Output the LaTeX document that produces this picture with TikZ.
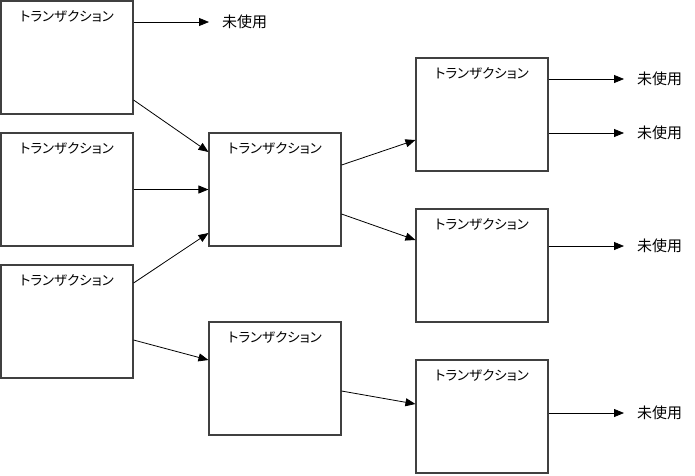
\documentclass[tikz,border=0pt]{standalone}
\usepackage{fontspec}
\newfontfamily\jpfont[RawFeature=+palt]{Noto Sans CJK JP}
\usetikzlibrary{arrows.meta,positioning}

\tikzset{
  txbox/.style={draw=black!75, line width=1.1pt, minimum width=132pt, minimum height=113pt, inner sep=0pt},
  txlabel/.style={font=\jpfont\fontsize{13.5}{15}\selectfont, inner sep=0pt},
  unusedtext/.style={font=\jpfont\fontsize{15}{17}\selectfont, inner sep=0pt, anchor=west},
  flow/.style={-{Triangle[length=10pt,width=8pt]}, line width=0.8pt},
}

\begin{document}
\begin{tikzpicture}[x=1pt, y=-1pt]
        \useasboundingbox (0,0) rectangle (695,475);

        % Transaction boxes
        \foreach \name/\x/\y in {a/67/57.5, b/67/189.5, c/67/321.5, d/275/189.5,
                                 e/482/114.5, f/482/265.5, g/275/378.5, h/482/416.5} {
            \node[txbox] (\name) at (\x,\y) {};
            \node[txlabel] (\name-label) at ([yshift=-16pt]\name.north) {トランザクション};
        }

        % Unused outputs
        \node[unusedtext] (u1) at (222,22) {未使用};
        \node[unusedtext] (u2) at (637,79) {未使用};
        \node[unusedtext] (u3) at (637,133) {未使用};
        \node[unusedtext] (u4) at (637,246) {未使用};
        \node[unusedtext] (u5) at (637,413) {未使用};

        \foreach \src/\dst in {a/u1, e/u2, e/u3, f/u4, h/u5} {
            \draw[flow] (\src.east |- \dst.west) -- ([xshift=-13pt]\dst.west);
        }

        % Links between transactions
        \draw[flow] ([yshift=-42.5pt]a.east) -- ([yshift=37.5pt]d.west);
        \draw[flow] (b.east) -- (d.west);
        \draw[flow] ([yshift=38.5pt]c.east) -- ([yshift=-43.5pt]d.west);
        \draw[flow] ([yshift=-18.5pt]c.east) -- ([yshift=18.5pt]g.west);
        \draw[flow] ([yshift=24.5pt]d.east) -- ([yshift=-25.5pt]e.west);
        \draw[flow] ([yshift=-24.5pt]d.east) -- ([yshift=25.5pt]f.west);
        \draw[flow] ([yshift=-12.5pt]g.east) -- ([yshift=12.5pt]h.west);

\end{tikzpicture}
\end{document}
